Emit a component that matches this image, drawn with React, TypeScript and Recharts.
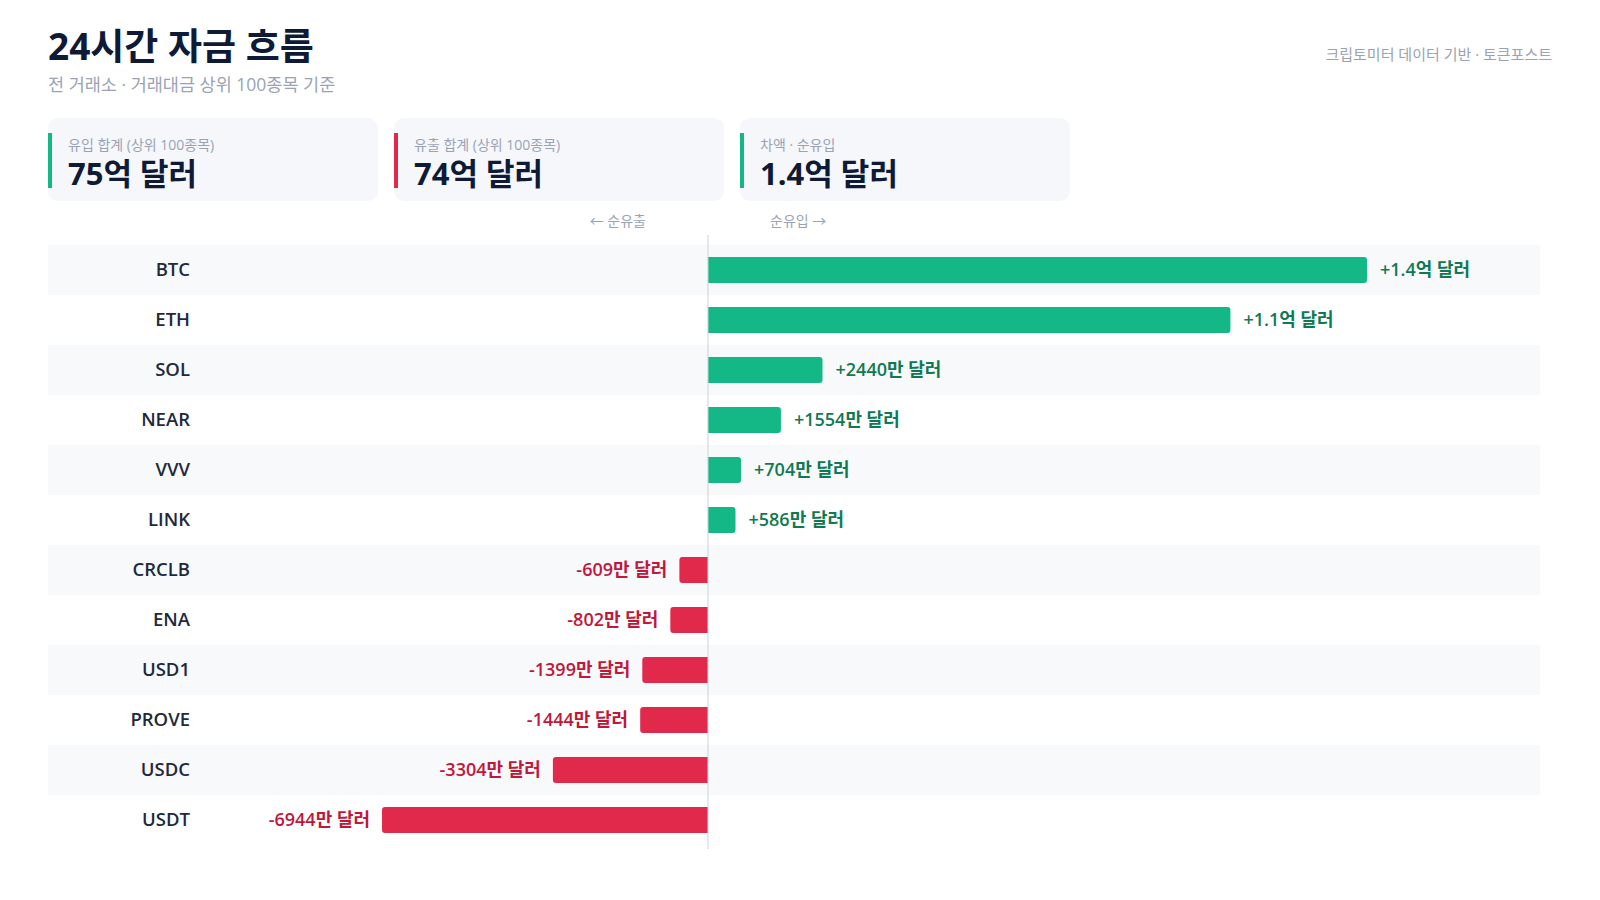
import React from "react";
import { BarChart, Bar, XAxis, YAxis, Cell, LabelList, ReferenceArea, ReferenceLine } from "recharts";

// values in 만 달러 (10,000 USD)
const coins = ["BTC", "ETH", "SOL", "NEAR", "VVV", "LINK", "CRCLB", "ENA", "USD1", "PROVE", "USDC", "USDT"];
const netFlow = [14040, 11130, 2440, 1554, 704, 586, -609, -802, -1399, -1444, -3304, -6944];

const kpiLabels = ["유입 합계 (상위 100종목)", "유출 합계 (상위 100종목)", "차액 · 순유입"];
const kpiValues = ["75억 달러", "74억 달러", "1.4억 달러"];
const kpiAccents = ["#13b886", "#e0294b", "#13b886"];

const data = coins.map((name, i) => ({ name, value: netFlow[i] }));

const GREEN = "#13b886";
const RED = "#e0294b";
const GREEN_TXT = "#0f7a52";
const RED_TXT = "#c0173a";
const FONT = "'Open Sans', 'Noto Sans CJK KR', sans-serif";

function fmt(v: number) {
  const sign = v >= 0 ? "+" : "-";
  const a = Math.abs(v);
  if (a >= 10000) return `${sign}${(a / 10000).toFixed(1)}억 달러`;
  return `${sign}${a}만 달러`;
}

function BarShape(props: any) {
  const { x, y, width, height, payload } = props;
  const left = Math.min(x, x + width);
  const w = Math.abs(width);
  const r = Math.min(3, w / 2);
  const top = y;
  const bot = y + height;
  let d: string;
  if (payload.value >= 0) {
    d = `M${left},${top} L${left + w - r},${top} Q${left + w},${top} ${left + w},${top + r} L${left + w},${bot - r} Q${left + w},${bot} ${left + w - r},${bot} L${left},${bot} Z`;
  } else {
    const right = left + w;
    d = `M${right},${top} L${left + r},${top} Q${left},${top} ${left},${top + r} L${left},${bot - r} Q${left},${bot} ${left + r},${bot} L${right},${bot} Z`;
  }
  return <path d={d} fill={payload.value >= 0 ? GREEN : RED} />;
}

function ValueLabel(props: any) {
  const { x, y, width, height, value } = props;
  const left = Math.min(x, x + width);
  const right = Math.max(x, x + width);
  const pos = value >= 0;
  return (
    <text
      x={pos ? right + 13 : left - 12}
      y={y + height / 2}
      dy="0.35em"
      textAnchor={pos ? "start" : "end"}
      fontFamily={FONT}
      fontWeight={600}
      fontSize={18}
      fill={pos ? GREEN_TXT : RED_TXT}
    >
      {fmt(value)}
    </text>
  );
}

function CoinTick(props: any) {
  const { y, payload } = props;
  return (
    <text x={142} y={y} dy="0.35em" textAnchor="end" fontFamily={FONT} fontWeight={600} fontSize={18.5} fill="#1e293b">
      {payload.value}
    </text>
  );
}

function ZeroLine(props: any) {
  const { x1, x2, y1, y2 } = props;
  return (
    <line x1={x1} x2={x2} y1={Math.min(y1, y2) - 10} y2={Math.max(y1, y2) + 4} stroke="#cbd2dc" strokeWidth={1} />
  );
}

export default function App() {
  return (
    <div style={{ position: "absolute", left: 0, top: 0, width: 1600, height: 900, background: "#ffffff", fontFamily: FONT }}>
      <div style={{ position: "absolute", left: 48, top: 24, fontSize: 37, fontWeight: 700, color: "#0f1a36", lineHeight: "44px" }}>
        24시간 자금 흐름
      </div>
      <div style={{ position: "absolute", left: 48, top: 72, fontSize: 17.5, color: "#9aa3b5", lineHeight: "24px" }}>
        전 거래소 · 거래대금 상위 100종목 기준
      </div>
      <div style={{ position: "absolute", right: 48, top: 44, fontSize: 15, color: "#9aa3b5", lineHeight: "20px" }}>
        크립토미터 데이터 기반 · 토큰포스트
      </div>

      {kpiLabels.map((lab, i) => (
        <div
          key={lab}
          style={{
            position: "absolute",
            left: 48 + i * 346,
            top: 118,
            width: 330,
            height: 83,
            borderRadius: 10,
            background: "#f5f7fb",
          }}
        >
          <div style={{ position: "absolute", left: 0, top: 15, width: 4, height: 55, background: kpiAccents[i] }} />
          <div style={{ position: "absolute", left: 20, top: 18, fontSize: 14, color: "#9aa3b5", lineHeight: "18px" }}>{lab}</div>
          <div style={{ position: "absolute", left: 20, top: 35, fontSize: 31, fontWeight: 700, color: "#0f1a36", lineHeight: "40px" }}>
            {kpiValues[i]}
          </div>
        </div>
      ))}

      <div style={{ position: "absolute", right: 1600 - 646, top: 211, fontSize: 14, color: "#9aa3b5", lineHeight: "19px" }}>← 순유출</div>
      <div style={{ position: "absolute", left: 770, top: 211, fontSize: 14, color: "#9aa3b5", lineHeight: "19px" }}>순유입 →</div>

      <div style={{ position: "absolute", left: 48, top: 235 }}>
        <BarChart
          width={1492}
          height={614}
          data={data}
          layout="vertical"
          margin={{ top: 10, right: 0, bottom: 4, left: 0 }}
          barSize={26}
        >
          {coins.map((c, i) =>
            i % 2 === 0 ? (
              <ReferenceArea key={c} y1={c} y2={c} fill="#f8f9fb" fillOpacity={1} stroke="none" />
            ) : null
          )}
          <XAxis type="number" domain={[-14060, 17725]} hide allowDataOverflow />
          <YAxis type="category" dataKey="name" mirror axisLine={false} tickLine={false} tick={<CoinTick />} interval={0} />
          <ReferenceLine x={0} shape={<ZeroLine />} />
          <Bar dataKey="value" isAnimationActive={false} shape={<BarShape />}>
            {data.map((d) => (
              <Cell key={d.name} fill={d.value >= 0 ? GREEN : RED} />
            ))}
            <LabelList dataKey="value" content={<ValueLabel />} />
          </Bar>
        </BarChart>
      </div>
    </div>
  );
}
